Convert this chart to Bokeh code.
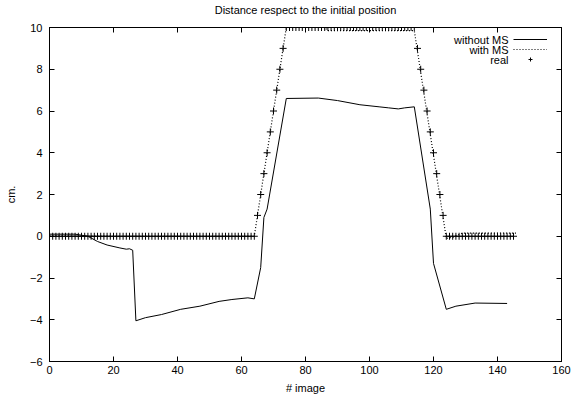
from bokeh.plotting import figure
from bokeh.models import Range1d, LinearAxis, FixedTicker, Legend, LegendItem, Label
from bokeh.embed import file_html
from bokeh.resources import INLINE

FONT = "Liberation Sans"

# ---- data ----
title = "Distance respect to the initial position"
x_label = "# image"
y_label = "cm."
series_names = ["without MS", "with MS", "real"]

x_ticks = [0, 20, 40, 60, 80, 100, 120, 140, 160]
y_ticks = [-6, -4, -2, 0, 2, 4, 6, 8, 10]

# "real" position: one value per image (0..145)
real_images = list(range(146))
real_cm = [
    0, 0, 0, 0, 0, 0, 0, 0, 0, 0, 0, 0, 0,
    0, 0, 0, 0, 0, 0, 0, 0, 0, 0, 0, 0, 0,
    0, 0, 0, 0, 0, 0, 0, 0, 0, 0, 0, 0, 0,
    0, 0, 0, 0, 0, 0, 0, 0, 0, 0, 0, 0, 0,
    0, 0, 0, 0, 0, 0, 0, 0, 0, 0, 0, 0, 0,
    1, 2, 3, 4, 5, 6, 7, 8, 9,
    10, 10, 10, 10, 10, 10, 10, 10, 10, 10,
    10, 10, 10, 10, 10, 10, 10, 10, 10, 10,
    10, 10, 10, 10, 10, 10, 10, 10, 10, 10,
    10, 10, 10, 10, 10, 10, 10, 10, 10, 10,
    10,
    9, 8, 7, 6, 5, 4, 3, 2, 1,
    0, 0, 0, 0, 0, 0, 0, 0, 0, 0, 0,
    0, 0, 0, 0, 0, 0, 0, 0, 0, 0, 0,
]

# "with MS" estimate (vertices of the dotted line)
ms_images = [0, 20, 40, 64, 74, 86, 87, 114, 124, 126, 129, 146]
ms_cm = [0.02, 0.0, 0.0, 0.0, 10.0, 10.0, 9.85, 9.85, -0.1, -0.05, 0.15, 0.15]

# "without MS" estimate (vertices of the solid line)
noms_images = [0, 8, 12, 15, 18, 22, 24, 25, 26, 27, 30, 35, 41, 47, 53, 57, 62, 64,
               66, 67, 68, 74, 84, 90, 97, 103, 106, 109, 111, 114,
               119, 120, 124, 127, 133, 143]
noms_cm = [0.1, 0.1, 0.0, -0.25, -0.42, -0.56, -0.62, -0.6, -0.67, -4.05, -3.9, -3.75,
           -3.5, -3.35, -3.12, -3.03, -2.95, -3.0,
           -1.5, 0.9, 1.3, 6.6, 6.62, 6.5, 6.3, 6.2, 6.15, 6.1, 6.15, 6.2,
           1.3, -1.3, -3.5, -3.35, -3.2, -3.22]

# ---- figure ----
p = figure(width=575, height=398, output_backend="svg", toolbar_location=None,
           x_range=Range1d(0, 160), y_range=Range1d(-6, 10),
           min_border_left=49, min_border_right=14, min_border_top=26, min_border_bottom=37,
           x_axis_label=x_label, y_axis_label=y_label)
p.title = None
p.grid.visible = False
p.background_fill_color = "white"
p.border_fill_color = "white"
p.outline_line_color = "black"

def style_axis(ax, ticks, show_labels):
    ax.ticker = FixedTicker(ticks=ticks)
    ax.major_tick_in = 5
    ax.major_tick_out = 0
    ax.minor_tick_line_color = None
    ax.axis_line_color = "black"
    ax.major_tick_line_color = "black"
    ax.major_label_text_font = FONT
    ax.axis_label_text_font = FONT
    ax.axis_label_text_font_size = "11px"
    ax.axis_label_text_font_style = "normal"
    ax.axis_label_text_color = "black"
    if show_labels:
        ax.major_label_text_font_size = "11px"
        ax.major_label_text_color = "black"
    else:
        ax.major_label_text_font_size = "0px"
        ax.major_label_text_color = None
        ax.major_label_standoff = 0

xa = p.xaxis[0]
style_axis(xa, x_ticks, True)
xa.major_label_standoff = 4
xa.axis_label_standoff = 5

ya = p.yaxis[0]
style_axis(ya, y_ticks, True)
ya.major_label_standoff = 7
ya.axis_label_standoff = 10

# top axis mirrors the ticks and carries the chart title
top_axis = LinearAxis(axis_label=title)
style_axis(top_axis, x_ticks, False)
top_axis.axis_label_standoff = 12
p.add_layout(top_axis, "above")
right_axis = LinearAxis()
style_axis(right_axis, y_ticks, False)
p.add_layout(right_axis, "right")

r_noms = p.line(noms_images, noms_cm, line_color="black", line_width=1)
r_ms = p.line(ms_images, ms_cm, line_color="black", line_width=1.2, line_dash="1 2")
r_real = p.scatter(real_images, real_cm, marker="cross", size=7, line_color="black",
                   line_width=1)

# gnuplot-style key: text on the left, sample on the right
legend = Legend(items=[LegendItem(label=" ", renderers=[r_noms]),
                       LegendItem(label=" ", renderers=[r_ms]),
                       LegendItem(label=" ", renderers=[r_real])],
                location=(464, 297), glyph_width=34, glyph_height=10,
                label_height=10, label_width=0, label_standoff=0,
                label_text_font_size="1px", spacing=0, padding=0, margin=0,
                border_line_color=None, background_fill_alpha=0)
p.add_layout(legend, "center")

for i, name in enumerate(series_names):
    p.add_layout(Label(x=459, y=322 - 10 * i, x_units="screen", y_units="screen",
                       text=name, text_align="right", text_baseline="middle",
                       text_font=FONT, text_font_size="11px", text_color="black"))

open("out.html", "w").write(file_html(p, INLINE))
